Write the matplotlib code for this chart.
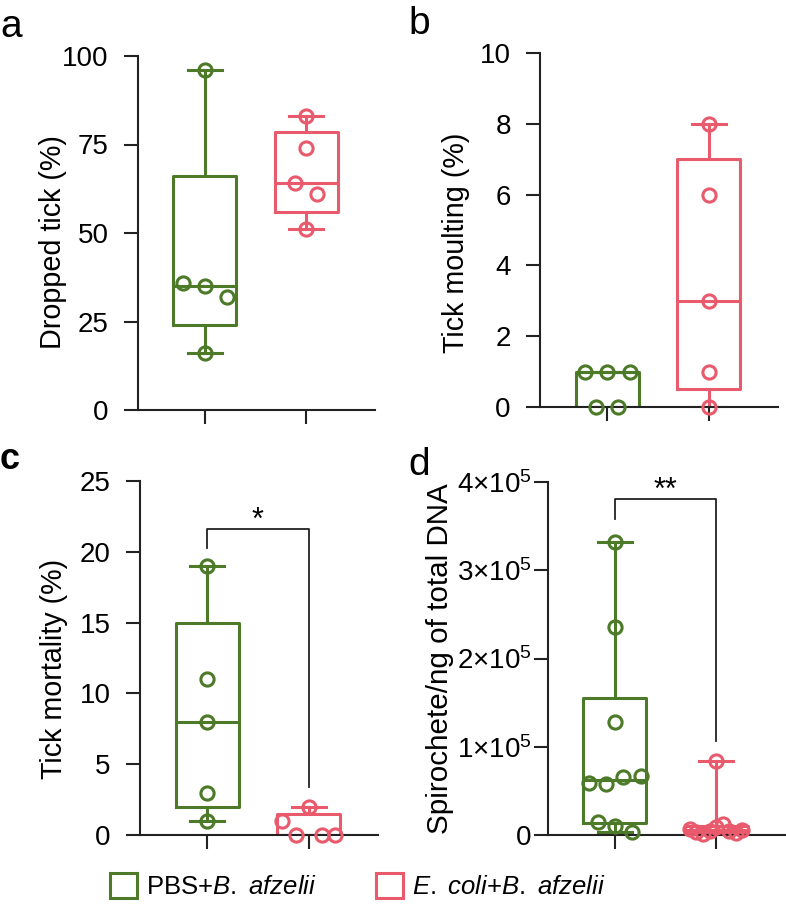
import numpy as np
import matplotlib.pyplot as plt
from matplotlib.patches import Patch

plt.rcParams['font.family'] = ['Liberation Sans', 'DejaVu Sans']
plt.rcParams['mathtext.fontset'] = 'custom'
plt.rcParams['mathtext.rm'] = 'Liberation Sans'
plt.rcParams['mathtext.it'] = 'Liberation Sans:italic'

# group labels (legend):
groups = [r'PBS+$\it{B.\ afzelii}$', r'$\it{E.\ coli}$+$\it{B.\ afzelii}$']

# a) dropped tick, %
drop_pbs   = [96, 36, 35, 32, 16]
drop_ecoli = [83, 74, 64, 61, 51]
# b) tick moulting, %
moult_pbs   = [1, 0, 1, 0, 1]
moult_ecoli = [8, 6, 3, 1, 0]
# c) tick mortality, %
mort_pbs   = [19, 11, 8, 3, 1]
mort_ecoli = [1, 0, 2, 0, 0]
# d) spirochete / ng of total DNA
spiro_pbs   = [3.32e5, 2.36e5, 1.28e5, 0.585e5, 0.575e5, 0.66e5, 0.67e5, 0.15e5, 0.10e5, 0.03e5]
spiro_ecoli = [0.07e5, 0.03e5, 0.01e5, 0.05e5, 0.84e5, 0.09e5, 0.12e5, 0.04e5, 0.02e5, 0.06e5]

ylabels = ['Dropped tick (%)', 'Tick moulting (%)', 'Tick mortality (%)',
           'Spirochete/ng of total DNA']
yticks = [[0, 25, 50, 75, 100], [0, 2, 4, 6, 8, 10], [0, 5, 10, 15, 20, 25],
          [0, 1e5, 2e5, 3e5, 4e5]]
yticklabels_d = ['0', r'$1{\times}10^5$', r'$2{\times}10^5$', r'$3{\times}10^5$',
                 r'$4{\times}10^5$']
signif = [None, None, '*', '**']

green = '#4C7A28'
red = '#E95B6C'
W, H = 786, 908

fig = plt.figure(figsize=(W/100, H/100), dpi=100)
# axes rectangles in pixels: left, top(value max), right, bottom(value 0)
boxes_px = [(138, 56, 375, 410), (540, 53, 778, 407),
            (140, 481, 378, 835), (548, 482, 785, 835)]
data = [(drop_pbs, drop_ecoli), (moult_pbs, moult_ecoli),
        (mort_pbs, mort_ecoli), (spiro_pbs, spiro_ecoli)]
# bracket: left end, top, right end (data units)
brackets = [None, None, (20.25, 21.6, 3.4), (3.58e5, 3.81e5, 1.06e5)]
label_xy = [(-0.30, 0.473), (-0.295, 0.465), (-0.303, 0.47), (-0.397, 0.5)]
label_fs = [20.7, 20.7, 20.7, 21.3]
tick_pad = [11, 11, 11, 2]
steps = [0.22, 0.22, 0.22, 0.17]
panel_pos = [(0.0, 0.99), (0.52, 0.993), (0.0, 0.513), (0.52, 0.508)]
panel_style = [(28, 'normal'), (28, 'normal'), (26, 'bold'), (28, 'normal')]


def prism_stats(v):
    v = np.asarray(v, float)
    q1, med, q3 = np.percentile(v, [25, 50, 75], method='weibull')
    return dict(med=med, q1=q1, q3=q3, whislo=v.min(), whishi=v.max(), fliers=[])


def row_offsets(vals, ppu, thresh=15, step=0.22, maxw=0.52):
    # points closer than a marker width are spread into a centred row
    vals = np.asarray(vals, float)
    order = np.argsort(vals)
    clusters, cur = [], [order[0]]
    for a, b in zip(order[:-1], order[1:]):
        if (vals[b] - vals[a]) * ppu < thresh:
            cur.append(b)
        else:
            clusters.append(cur)
            cur = [b]
    clusters.append(cur)
    off = np.zeros(len(vals))
    for c in clusters:
        c = sorted(c)
        n = len(c)
        if n > 1:
            s = min(step, maxw / (n - 1))
            for k, i in enumerate(c):
                off[i] = (k - (n - 1) / 2) * s
    return off


labels = 'abcd'
for p in range(4):
    l, t, r, b = boxes_px[p]
    ax = fig.add_axes([l/W, 1 - b/H, (r - l)/W, (b - t)/H])
    ymax = yticks[p][-1]
    ax.set_ylim(0, ymax)
    ax.set_xlim(-0.66, 1.68)
    ppu = (b - t) / ymax
    for g, (vals, col) in enumerate(zip(data[p], [green, red])):
        st = prism_stats(vals)
        lp = dict(color=col, lw=2.2)
        ax.bxp([st], positions=[g], widths=0.62, capwidths=0.33, showfliers=False,
               boxprops=lp, whiskerprops=lp, capprops=lp, medianprops=lp,
               manage_ticks=False)
        x = g + row_offsets(vals, ppu, step=steps[p])
        ax.plot(x, vals, 'o', ms=9.5, mfc='none', mec=col, mew=2.2,
                clip_on=False, zorder=5)
    if brackets[p] is not None:
        y1, yt, y2 = brackets[p]
        ax.plot([0, 0, 1, 1], [y1, yt, yt, y2], color='#222222', lw=1.3, clip_on=False)
        ax.text(0.5, yt, signif[p], ha='center', va='baseline', fontsize=22)
    for s in ['top', 'right']:
        ax.spines[s].set_visible(False)
    for s in ['left', 'bottom']:
        ax.spines[s].set_linewidth(1.5)
        ax.spines[s].set_color('#222222')
    ax.set_xticks([0, 1])
    ax.set_xticklabels([])
    ax.set_yticks(yticks[p])
    if p == 3:
        ax.set_yticklabels(yticklabels_d)
    ax.tick_params(length=10, width=1.5, color='#222222', labelsize=20)
    ax.tick_params(axis='y', pad=tick_pad[p])
    ax.set_ylabel(ylabels[p], fontsize=label_fs[p])
    ax.yaxis.set_label_coords(*label_xy[p])
    fig.text(panel_pos[p][0], panel_pos[p][1], labels[p],
             fontsize=panel_style[p][0], fontweight=panel_style[p][1],
             va='top', ha='left')

handles = [Patch(facecolor='white', edgecolor=c, linewidth=2.2) for c in [green, red]]
fig.legend(handles, groups, loc='center', bbox_to_anchor=(0.455, 0.024), ncol=2,
           frameon=False, fontsize=18.5, handlelength=1.05, handleheight=1.15,
           handletextpad=0.35, columnspacing=2.3)

fig.savefig('out.png', dpi=100)
